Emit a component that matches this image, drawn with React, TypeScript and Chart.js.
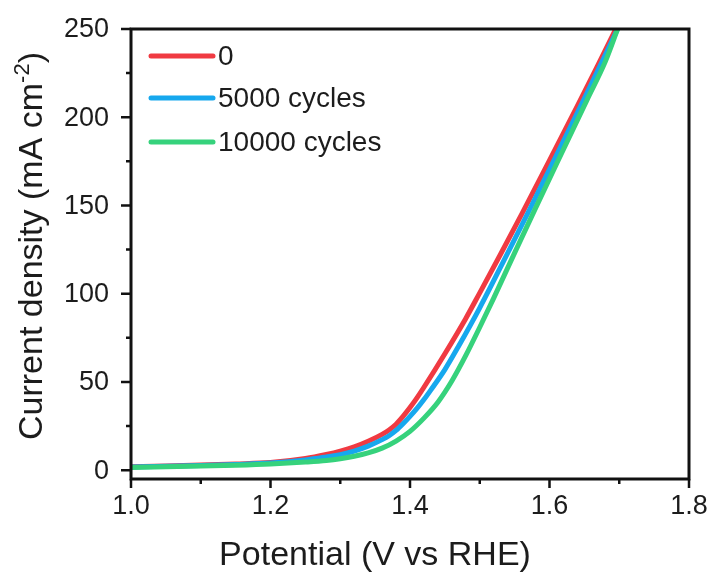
import { useEffect, useRef } from "react";
import { Chart, registerables } from "chart.js";

Chart.register(...registerables);

// ---- Data ----
const potential0 = [1.0, 1.05, 1.1, 1.15, 1.2, 1.25, 1.28, 1.3, 1.32, 1.34, 1.36, 1.37, 1.38, 1.39, 1.4, 1.41, 1.42, 1.45, 1.48, 1.5, 1.53, 1.56, 1.6, 1.64, 1.67, 1.7];
const current0 = [2.0, 2.4, 2.9, 3.5, 4.3, 6.6, 8.9, 10.8, 13.2, 16.4, 20.3, 22.8, 26, 30.5, 35.5, 41, 47, 66, 86, 100.5, 122.5, 145, 175.5, 206.5, 230, 254];

const potential5000 = [1.0, 1.05, 1.1, 1.15, 1.2, 1.25, 1.28, 1.3, 1.32, 1.34, 1.36, 1.37, 1.38, 1.39, 1.4, 1.41, 1.42, 1.43, 1.45, 1.47, 1.5, 1.54, 1.57, 1.6, 1.648, 1.67, 1.7];
const current5000 = [1.8, 2.2, 2.6, 3.2, 4.0, 5.8, 7.5, 8.8, 10.8, 13.6, 17.3, 19.5, 22.5, 26.3, 30.5, 35, 40, 45.5, 57, 70.5, 92, 123, 146.5, 170.5, 209, 227, 252];

const potential10000 = [1.0, 1.05, 1.1, 1.15, 1.2, 1.25, 1.28, 1.3, 1.32, 1.34, 1.36, 1.38, 1.4, 1.42, 1.44, 1.46, 1.48, 1.5, 1.52, 1.551, 1.58, 1.61, 1.654, 1.68, 1.7];
const current10000 = [1.5, 1.9, 2.3, 2.8, 3.5, 4.6, 5.5, 6.5, 7.9, 9.8, 12.5, 16.5, 22, 29.5, 38.5, 50.5, 65, 81, 97.5, 124, 148.5, 173.5, 210, 231.5, 252.5];

const seriesLabels = ["0", "5000 cycles", "10000 cycles"];
const seriesColors = ["#f03a42", "#16a8ee", "#36d27c"];

const xTickValues = [1.0, 1.1, 1.2, 1.3, 1.4, 1.5, 1.6, 1.7, 1.8];
const yTickValues = [0, 25, 50, 75, 100, 125, 150, 175, 200, 225, 250];

const xTitle = "Potential (V vs RHE)";
const yTitleMain = "Current density (mA cm";
const yTitleSup = "-2";
const yTitleEnd = ")";

const FONT = "'Liberation Sans', Arial, Helvetica, sans-serif";
const TEXT = "#1c1c1c";

const toPoints = (xs: number[], ys: number[]) => xs.map((x, i) => ({ x, y: ys[i] }));

const isMajorX = (v: number) => Math.round(v * 10) % 2 === 0;
const isMajorY = (v: number) => Math.round(v) % 50 === 0;

const decorPlugin = {
  id: "decor",
  afterDatasetsDraw(chart: any) {
    const { ctx, chartArea } = chart;
    const { left, right, top, bottom } = chartArea;
    const xs = chart.scales.x;
    const ys = chart.scales.y;
    ctx.save();
    // frame
    ctx.strokeStyle = "#111";
    ctx.lineWidth = 3;
    ctx.strokeRect(left, top, right - left, bottom - top);
    // ticks (outward)
    ctx.lineWidth = 2.5;
    ctx.beginPath();
    xTickValues.forEach((v) => {
      const px = xs.getPixelForValue(v);
      const len = isMajorX(v) ? 9 : 5;
      ctx.moveTo(px, bottom);
      ctx.lineTo(px, bottom + len);
    });
    yTickValues.forEach((v) => {
      const py = ys.getPixelForValue(v);
      const len = isMajorY(v) ? 10 : 5;
      ctx.moveTo(left, py);
      ctx.lineTo(left - len, py);
    });
    ctx.stroke();

    // tick labels
    ctx.fillStyle = TEXT;
    ctx.font = `27px ${FONT}`;
    ctx.textBaseline = "middle";
    ctx.textAlign = "center";
    xTickValues.forEach((v) => {
      if (!isMajorX(v)) return;
      ctx.fillText(v.toFixed(1), xs.getPixelForValue(v), bottom + 28);
    });
    ctx.textAlign = "right";
    yTickValues.forEach((v) => {
      if (!isMajorY(v)) return;
      ctx.fillText(String(v), left - 22, ys.getPixelForValue(v) + 1);
    });

    // x title
    ctx.font = `34px ${FONT}`;
    ctx.textAlign = "center";
    ctx.textBaseline = "alphabetic";
    ctx.fillText(xTitle, 375, 565);

    // y title with superscript
    ctx.save();
    ctx.translate(42, 246);
    ctx.rotate(-Math.PI / 2);
    const mainFont = `34px ${FONT}`;
    const supFont = `22px ${FONT}`;
    ctx.font = mainFont;
    const w1 = ctx.measureText(yTitleMain).width;
    const w3 = ctx.measureText(yTitleEnd).width;
    ctx.font = supFont;
    const w2 = ctx.measureText(yTitleSup).width;
    const total = w1 + w2 + w3;
    let x0 = -total / 2;
    ctx.textAlign = "left";
    ctx.font = mainFont;
    ctx.fillText(yTitleMain, x0, 0);
    x0 += w1;
    ctx.font = supFont;
    ctx.fillText(yTitleSup, x0, -13);
    x0 += w2;
    ctx.font = mainFont;
    ctx.fillText(yTitleEnd, x0, 0);
    ctx.restore();

    // legend
    const legendY = [56, 98, 142];
    ctx.lineCap = "round";
    ctx.lineWidth = 5;
    seriesLabels.forEach((lab, i) => {
      ctx.strokeStyle = seriesColors[i];
      ctx.beginPath();
      ctx.moveTo(151, legendY[i]);
      ctx.lineTo(213, legendY[i]);
      ctx.stroke();
      ctx.fillStyle = TEXT;
      ctx.font = `28px ${FONT}`;
      ctx.textAlign = "left";
      ctx.textBaseline = "middle";
      ctx.fillText(lab, 218, legendY[i] + 1);
    });
    ctx.restore();
  },
};

export default function App() {
  const ref = useRef<HTMLCanvasElement | null>(null);
  useEffect(() => {
    if (!ref.current) return;
    const mk = (label: string, xs: number[], ys: number[], color: string, order: number) => ({
      label,
      data: toPoints(xs, ys),
      borderColor: color,
      backgroundColor: color,
      borderWidth: 5,
      pointRadius: 0,
      cubicInterpolationMode: "monotone" as const,
      order,
    });
    const chart = new Chart(ref.current, {
      type: "line",
      data: {
        datasets: [
          mk(seriesLabels[0], potential0, current0, seriesColors[0], 3),
          mk(seriesLabels[1], potential5000, current5000, seriesColors[1], 2),
          mk(seriesLabels[2], potential10000, current10000, seriesColors[2], 1),
        ],
      },
      options: {
        animation: false,
        responsive: false,
        maintainAspectRatio: false,
        layout: { padding: { top: 29, right: 25, left: 0, bottom: 0 } },
        plugins: { legend: { display: false }, tooltip: { enabled: false } },
        scales: {
          x: {
            type: "linear",
            min: 1.0,
            max: 1.8,
            afterBuildTicks: (s: any) => {
              s.ticks = xTickValues.map((v) => ({ value: v }));
            },
            afterFit: (s: any) => {
              s.height = 96;
            },
            ticks: { display: false },
            grid: { display: false, drawTicks: false },
            border: { display: false },
          },
          y: {
            type: "linear",
            min: -5,
            max: 250,
            afterBuildTicks: (s: any) => {
              s.ticks = yTickValues.map((v) => ({ value: v }));
            },
            afterFit: (s: any) => {
              s.width = 131;
            },
            ticks: { display: false },
            grid: { display: false, drawTicks: false },
            border: { display: false },
          },
        },
      },
      plugins: [decorPlugin],
    });
    return () => chart.destroy();
  }, []);
  return (
    <div style={{ position: "absolute", left: 0, top: 0, width: 714, height: 575, background: "#fff" }}>
      <canvas ref={ref} width={714} height={575} style={{ width: 714, height: 575 }} />
    </div>
  );
}
